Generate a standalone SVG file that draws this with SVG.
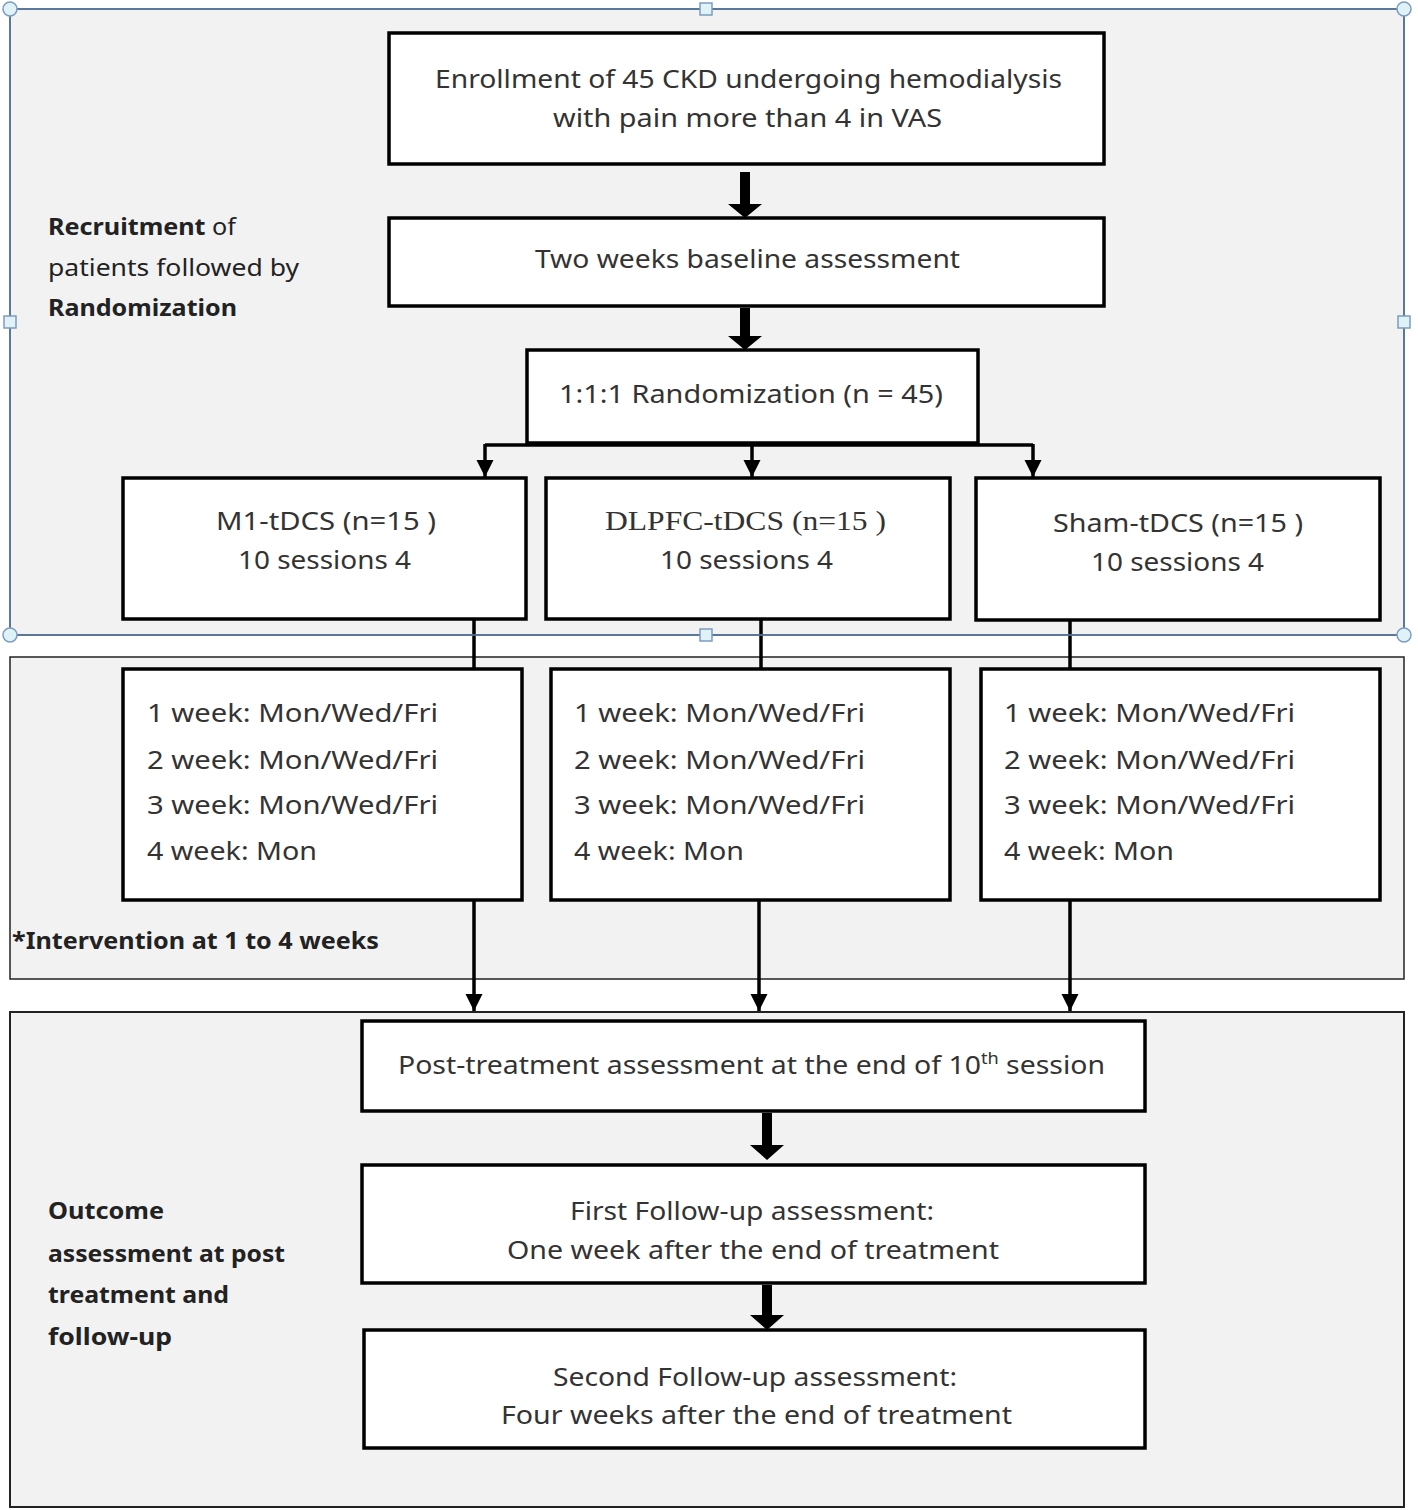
<svg xmlns="http://www.w3.org/2000/svg" width="1418" height="1510" viewBox="0 0 1418 1510">
<defs>
<style>
.panel{fill:#f2f2f2;stroke:#222;stroke-width:1.5}
.box{fill:#fff;stroke:#000;stroke-width:3.5}
.t{font-family:"Noto Sans","Open Sans","Liberation Sans",sans-serif;font-size:25px;fill:#333}
.ts{font-family:"Liberation Serif","DejaVu Serif",serif;font-size:27px;fill:#333}
.lb{font-family:"Noto Sans","Open Sans","Liberation Sans",sans-serif;font-size:24px;fill:#222}
.b{font-weight:bold}
.ln{stroke:#000;stroke-width:3.5;fill:none}
.thick{fill:#000}
.sel{fill:none;stroke:#5b84b1;stroke-width:1.5}
.hc{fill:#def2f8;stroke:#7d9cbf;stroke-width:1.5}
</style>
<marker id="ah" markerWidth="6" markerHeight="6" refX="5" refY="3" orient="auto" markerUnits="strokeWidth">
<path d="M0,0.5 L5,3 L0,5.5 z" fill="#000"/>
</marker>
</defs>
<rect width="1418" height="1510" fill="#fff"/>
<g id="panels">
<rect class="panel" x="10" y="9" width="1394" height="626"/>
<rect class="panel" x="10" y="657" width="1394" height="322"/>
<rect class="panel" x="10" y="1012" width="1394" height="495" style="stroke-width:2"/>
</g>
<g id="labels">
<text class="lb" x="48" y="235" textLength="188" lengthAdjust="spacingAndGlyphs"><tspan class="b">Recruitment</tspan> of</text>
<text class="lb" x="48" y="276" textLength="251" lengthAdjust="spacingAndGlyphs">patients followed by</text>
<text class="lb b" x="48" y="316" textLength="189" lengthAdjust="spacingAndGlyphs">Randomization</text>
<text class="lb b" x="12" y="949" textLength="367" lengthAdjust="spacingAndGlyphs">*Intervention at 1 to 4 weeks</text>
<text class="lb b" x="48" y="1219" textLength="116" lengthAdjust="spacingAndGlyphs">Outcome</text>
<text class="lb b" x="48" y="1262" textLength="237" lengthAdjust="spacingAndGlyphs">assessment at post</text>
<text class="lb b" x="48" y="1303" textLength="181" lengthAdjust="spacingAndGlyphs">treatment and</text>
<text class="lb b" x="48" y="1345" textLength="124" lengthAdjust="spacingAndGlyphs">follow-up</text>
</g>
<g id="connectors">
<path class="thick" d="M740,172 h10 v32 h12 l-17,14 l-17,-14 h12 z"/>
<path class="thick" d="M740,308 h10 v28 h12 l-17,14 l-17,-14 h12 z"/>
<path class="ln" d="M485,445 H1033"/>
<path class="ln" d="M485,444 V477" marker-end="url(#ah)"/>
<path class="ln" d="M752,444 V477" marker-end="url(#ah)"/>
<path class="ln" d="M1033,444 V477" marker-end="url(#ah)"/>
<path class="ln" d="M474,619 V669"/>
<path class="ln" d="M761,619 V669"/>
<path class="ln" d="M1070,620 V669"/>
<path class="ln" d="M474,900 V1011" marker-end="url(#ah)"/>
<path class="ln" d="M759,900 V1011" marker-end="url(#ah)"/>
<path class="ln" d="M1070,900 V1011" marker-end="url(#ah)"/>
<path class="thick" d="M762,1113 h10 v32 h12 l-17,15 l-17,-15 h12 z"/>
<path class="thick" d="M762,1285 h10 v30 h12 l-17,15 l-17,-15 h12 z"/>
</g>
<g id="n-enroll">
<rect class="box" x="389" y="33" width="715" height="131"/>
<text class="t" x="435" y="88" textLength="627" lengthAdjust="spacingAndGlyphs">Enrollment of 45 CKD undergoing hemodialysis</text>
<text class="t" x="553" y="127" textLength="389" lengthAdjust="spacingAndGlyphs">with pain more than 4 in VAS</text>
</g>
<g id="n-baseline">
<rect class="box" x="389" y="218" width="715" height="88"/>
<text class="t" x="535" y="268" textLength="425" lengthAdjust="spacingAndGlyphs">Two weeks baseline assessment</text>
</g>
<g id="n-random">
<rect class="box" x="527" y="350" width="451" height="93"/>
<text class="t" x="559" y="403" textLength="384" lengthAdjust="spacingAndGlyphs">1:1:1 Randomization (n = 45)</text>
</g>
<g id="n-m1">
<rect class="box" x="123" y="478" width="403" height="141"/>
<text class="t" x="216" y="530" textLength="220" lengthAdjust="spacingAndGlyphs">M1-tDCS (n=15 )</text>
<text class="t" x="238" y="569" textLength="173" lengthAdjust="spacingAndGlyphs">10 sessions 4</text>
</g>
<g id="n-dlpfc">
<rect class="box" x="546" y="478" width="404" height="141"/>
<text class="ts" x="605" y="530" textLength="281" lengthAdjust="spacingAndGlyphs">DLPFC-tDCS (n=15 )</text>
<text class="t" x="660" y="569" textLength="173" lengthAdjust="spacingAndGlyphs">10 sessions 4</text>
</g>
<g id="n-sham">
<rect class="box" x="976" y="478" width="404" height="142"/>
<text class="t" x="1053" y="532" textLength="250" lengthAdjust="spacingAndGlyphs">Sham-tDCS (n=15 )</text>
<text class="t" x="1091" y="571" textLength="173" lengthAdjust="spacingAndGlyphs">10 sessions 4</text>
</g>
<g id="n-weeks-m1">
<rect class="box" x="123" y="669" width="399" height="231"/>
<text class="t" x="147" y="722" textLength="291" lengthAdjust="spacingAndGlyphs">1 week: Mon/Wed/Fri</text>
<text class="t" x="147" y="769" textLength="291" lengthAdjust="spacingAndGlyphs">2 week: Mon/Wed/Fri</text>
<text class="t" x="147" y="814" textLength="291" lengthAdjust="spacingAndGlyphs">3 week: Mon/Wed/Fri</text>
<text class="t" x="147" y="860" textLength="170" lengthAdjust="spacingAndGlyphs">4 week: Mon</text>
</g>
<g id="n-weeks-dlpfc">
<rect class="box" x="551" y="669" width="399" height="231"/>
<text class="t" x="574" y="722" textLength="291" lengthAdjust="spacingAndGlyphs">1 week: Mon/Wed/Fri</text>
<text class="t" x="574" y="769" textLength="291" lengthAdjust="spacingAndGlyphs">2 week: Mon/Wed/Fri</text>
<text class="t" x="574" y="814" textLength="291" lengthAdjust="spacingAndGlyphs">3 week: Mon/Wed/Fri</text>
<text class="t" x="574" y="860" textLength="170" lengthAdjust="spacingAndGlyphs">4 week: Mon</text>
</g>
<g id="n-weeks-sham">
<rect class="box" x="981" y="669" width="399" height="231"/>
<text class="t" x="1004" y="722" textLength="291" lengthAdjust="spacingAndGlyphs">1 week: Mon/Wed/Fri</text>
<text class="t" x="1004" y="769" textLength="291" lengthAdjust="spacingAndGlyphs">2 week: Mon/Wed/Fri</text>
<text class="t" x="1004" y="814" textLength="291" lengthAdjust="spacingAndGlyphs">3 week: Mon/Wed/Fri</text>
<text class="t" x="1004" y="860" textLength="170" lengthAdjust="spacingAndGlyphs">4 week: Mon</text>
</g>
<g id="n-post">
<rect class="box" x="362" y="1021" width="783" height="90"/>
<text class="t" x="398" y="1074" textLength="707" lengthAdjust="spacingAndGlyphs">Post-treatment assessment at the end of 10<tspan dy="-10" font-size="16">th</tspan><tspan dy="10"> session</tspan></text>
</g>
<g id="n-fu1">
<rect class="box" x="362" y="1165" width="783" height="118"/>
<text class="t" x="570" y="1220" textLength="364" lengthAdjust="spacingAndGlyphs">First Follow-up assessment:</text>
<text class="t" x="507" y="1259" textLength="492" lengthAdjust="spacingAndGlyphs">One week after the end of treatment</text>
</g>
<g id="n-fu2">
<rect class="box" x="364" y="1330" width="781" height="118"/>
<text class="t" x="553" y="1386" textLength="404" lengthAdjust="spacingAndGlyphs">Second Follow-up assessment:</text>
<text class="t" x="501" y="1424" textLength="511" lengthAdjust="spacingAndGlyphs">Four weeks after the end of treatment</text>
</g>
<g id="selection">
<rect class="sel" x="10" y="9" width="1394" height="626"/>
<circle class="hc" cx="10" cy="9" r="7"/>
<circle class="hc" cx="1404" cy="9" r="7"/>
<circle class="hc" cx="10" cy="635" r="7"/>
<circle class="hc" cx="1404" cy="635" r="7"/>
<rect class="hc" x="700" y="3" width="12" height="12"/>
<rect class="hc" x="700" y="629" width="12" height="12"/>
<rect class="hc" x="4" y="316" width="12" height="12"/>
<rect class="hc" x="1398" y="316" width="12" height="12"/>
</g>
</svg>
